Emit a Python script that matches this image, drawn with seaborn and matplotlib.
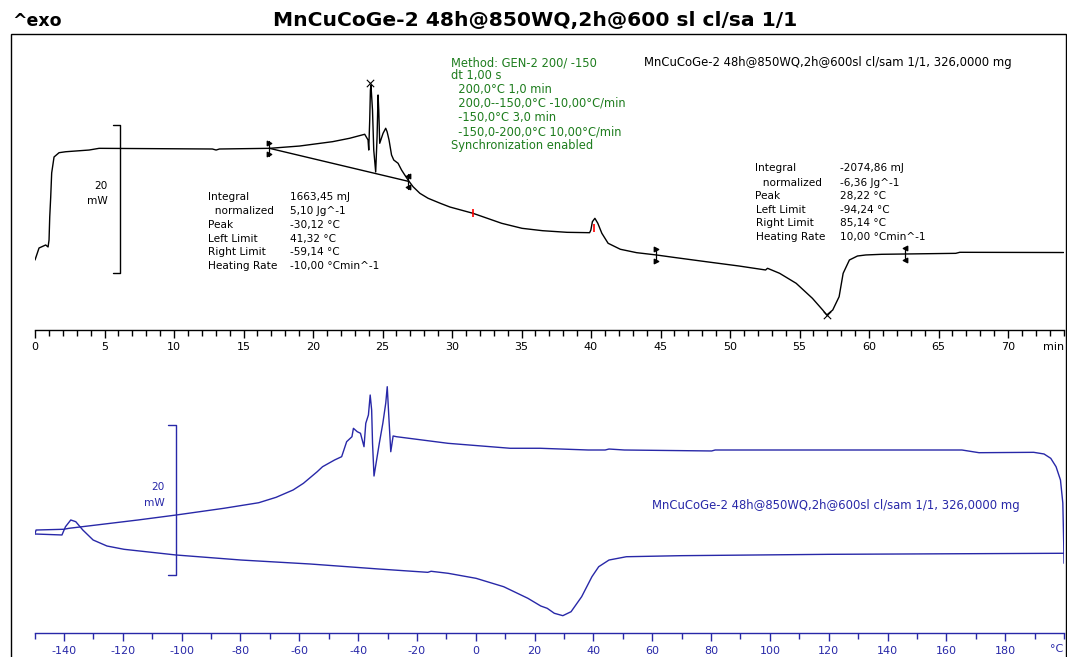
import numpy as np
import pandas as pd
import seaborn as sns
import matplotlib
matplotlib.use("Agg")
import matplotlib.pyplot as plt
from matplotlib.ticker import MultipleLocator
from matplotlib.patches import Rectangle

# ---------------- data ----------------
# upper panel: heat flow (mW) vs time (min)
top_time = [0.00, 0.29, 0.77, 0.94, 1.01, 1.06, 1.13, 1.20, 1.37, 1.73, 2.21, 3.89, 4.61, 12.76, 13.03, 13.27,
            16.87, 19.03, 21.41, 22.64, 23.72, 23.96, 24.01, 24.08, 24.13, 24.17, 24.28, 24.37, 24.51, 24.61,
            24.68, 24.73, 24.80, 24.92, 25.04, 25.23, 25.33, 25.47, 25.65, 25.81, 26.12, 26.37, 26.60, 26.84,
            27.20, 27.69, 28.28, 29.16, 29.85, 30.63, 31.51, 33.57, 35.04, 36.51, 38.28, 39.90, 39.99, 40.10,
            40.28, 40.49, 40.78, 41.23, 42.11, 43.28, 44.70, 45.93, 48.28, 50.64, 52.56, 52.70, 53.57, 54.76,
            55.93, 56.67, 56.96, 57.39, 57.85, 58.14, 58.59, 59.17, 59.77, 60.92, 62.56, 66.24, 66.53, 74.00]
top_hf = [9.46, 11.08, 11.49, 11.22, 12.16, 15.27, 17.97, 21.22, 23.38, 23.96, 24.09, 24.32, 24.55, 24.46, 24.32,
          24.46, 24.55, 24.86, 25.45, 25.91, 26.45, 25.68, 24.32, 28.38, 32.43, 33.11, 29.73, 24.32, 21.35, 26.12,
          31.76, 29.73, 25.23, 25.91, 26.58, 27.26, 26.80, 25.68, 23.65, 22.97, 22.53, 21.62, 20.95, 20.27,
          19.36, 18.47, 17.80, 17.12, 16.62, 16.22, 15.77, 14.42, 13.74, 13.42, 13.20, 13.15, 13.51, 14.64,
          15.09, 14.42, 13.07, 11.72, 10.91, 10.45, 10.14, 9.82, 9.23, 8.65, 8.11, 8.34, 7.66, 6.31,
          4.28, 2.70, 2.03, 2.70, 4.50, 7.66, 9.46, 10.00, 10.14, 10.23, 10.27, 10.36, 10.50, 10.47]

# integration baselines / limits (time, mW)
base1_time = [16.87, 26.84]
base1_hf = [24.55, 20.10]
base2_time = [44.70, 62.56]
base2_hf = [10.14, 10.27]
peak_marks_time = [24.08, 56.96]
peak_marks_hf = [33.40, 2.03]
red_marks_time = [31.51, 40.19]
red_marks_hf = [15.77, 13.78]

# lower panel: heat flow (mW) vs temperature (°C)
cool_T = [200.0, 199.9, 199.6, 198.8, 197.3, 195.5, 193.2, 189.7, 171.1, 165.3, 118.7, 81.4, 80.2, 50.5, 45.3,
          44.0, 38.2, 21.9, 11.7, -9.4, -26.9, -28.1, -28.9, -29.5, -30.1, -30.6, -31.6, -32.8, -34.6, -35.1,
          -35.4, -35.9, -36.5, -37.4, -38.0, -39.2, -40.3, -41.6, -42.1, -43.9, -45.6, -48.0, -52.1, -53.9,
          -58.6, -62.1, -67.9, -73.8, -85.6, -101.9, -114.8, -138.3, -140.1, -149.5, -149.9]
cool_hf = [9.3, 12.0, 17.33, 20.4, 22.17, 23.29, 23.87, 24.09, 24.04, 24.4, 24.4, 24.4, 24.27, 24.4, 24.53,
           24.4, 24.4, 24.63, 24.63, 25.29, 26.17, 26.27, 24.17, 28.4, 32.84, 30.67, 27.96, 25.29, 20.93, 25.29,
           29.73, 31.73, 29.07, 27.96, 24.84, 26.63, 26.84, 27.29, 26.17, 25.51, 23.51, 23.07, 22.17, 21.51,
           19.96, 19.07, 18.09, 17.37, 16.63, 15.73, 15.07, 13.96, 13.83, 13.73, 13.2]
heat_T = [-149.9, -140.7, -139.5, -137.7, -136.0, -133.6, -130.1, -125.4, -119.6, -101.9, -79.8, -56.3, -32.9,
          -16.3, -15.2, -9.4, 0.1, 9.5, 17.7, 22.1, 24.3, 26.7, 29.6, 32.4, 36.0, 39.5, 41.8, 45.3, 51.2,
          69.8, 119.9, 200.0]
heat_hf = [13.2, 13.07, 14.17, 15.07, 14.84, 13.73, 12.4, 11.6, 11.16, 10.4, 9.73, 9.2, 8.53, 8.09, 8.23, 7.96,
           7.29, 6.17, 4.63, 3.6, 3.29, 2.63, 2.31, 2.84, 4.84, 7.51, 8.84, 9.73, 10.17, 10.31, 10.49, 10.63]

# scale bars (20 mW)
top_bar_time = 6.12
top_bar_hf = [7.70, 27.70]
bot_bar_T = -101.9
bot_bar_hf = [7.70, 27.70]

# texts
title = "MnCuCoGe-2 48h@850WQ,2h@600 sl cl/sa 1/1"
sample_label = "MnCuCoGe-2 48h@850WQ,2h@600sl cl/sam 1/1, 326,0000 mg"
method_lines = ["Method: GEN-2 200/ -150", "dt 1,00 s", "  200,0°C 1,0 min", "  200,0--150,0°C -10,00°C/min",
                "  -150,0°C 3,0 min", "  -150,0-200,0°C 10,00°C/min", "Synchronization enabled"]
res1_labels = ["Integral", "  normalized", "Peak", "Left Limit", "Right Limit", "Heating Rate"]
res1_values = ["1663,45 mJ", "5,10 Jg^-1", "-30,12 °C", "41,32 °C", "-59,14 °C", "-10,00 °Cmin^-1"]
res2_labels = ["Integral", "  normalized", "Peak", "Left Limit", "Right Limit", "Heating Rate"]
res2_values = ["-2074,86 mJ", "-6,36 Jg^-1", "28,22 °C", "-94,24 °C", "85,14 °C", "10,00 °Cmin^-1"]

# ---------------- figure ----------------
sns.set_theme(style="white")
plt.rcParams["font.family"] = ["DejaVu Sans"]
plt.rcParams["text.color"] = "black"

W, H = 1067, 657
fig = plt.figure(figsize=(W / 100, H / 100), dpi=100)
fig.patch.set_facecolor("white")

BLUE = "#2828a8"
GREEN = "#1e7d1e"
FS = 7.6
FS_LBL = 8.4
FS_METH = 8.3


def px(x, y):
    return x / W, 1 - y / H


# outer frame
fig.patches.append(Rectangle(px(11, 700), (1066 - 11) / W, (700 - 34) / H, transform=fig.transFigure,
                             fill=False, edgecolor="black", linewidth=1.0, clip_on=False))

# upper axes
ax1 = fig.add_axes([35 / W, (H - 330) / H, (1063.6 - 35) / W, (330 - 35) / H])
ax1.set_xlim(0, 74)
ax1.set_ylim(0, 295 / 7.4)
ax1.patch.set_alpha(0)

sns.lineplot(x=top_time, y=top_hf, sort=False, estimator=None, color="black", linewidth=1.0, ax=ax1)
sns.lineplot(x=base1_time, y=base1_hf, sort=False, estimator=None, color="black", linewidth=1.0, ax=ax1)
ax1.scatter(peak_marks_time, peak_marks_hf, marker="x", s=28, color="black", linewidths=0.8, zorder=5)
ax1.scatter(red_marks_time, red_marks_hf, marker="|", s=40, color="red", linewidths=1.2, zorder=5)
# limit markers
d = 0.75
ax1.scatter([base1_time[0]] * 2, [base1_hf[0] + d, base1_hf[0] - d], marker=">", s=10, color="black", zorder=5)
ax1.scatter([base1_time[1]] * 2, [base1_hf[1] + d, base1_hf[1] - d], marker="<", s=10, color="black", zorder=5)
ax1.scatter([base2_time[0]] * 2, [base2_hf[0] + d, base2_hf[0] - d], marker=">", s=10, color="black", zorder=5)
ax1.scatter([base2_time[1]] * 2, [base2_hf[1] + d, base2_hf[1] - d], marker="<", s=10, color="black", zorder=5)
for t, h in [(base1_time[0], base1_hf[0]), (base1_time[1], base1_hf[1]),
             (base2_time[0], base2_hf[0]), (base2_time[1], base2_hf[1])]:
    ax1.plot([t, t], [h - 1.0, h + 1.0], color="black", lw=0.9)
# scale bar
ax1.plot([top_bar_time - 0.5, top_bar_time, top_bar_time, top_bar_time - 0.5],
         [top_bar_hf[0], top_bar_hf[0], top_bar_hf[1], top_bar_hf[1]], color="black", lw=1.0)

# lower axes
ax2 = fig.add_axes([34.6 / W, (H - 633) / H, (1064 - 34.6) / W, (633 - 360) / H])
ax2.set_xlim(-150, 200)
ax2.set_ylim(0, 273 / 7.5)
ax2.patch.set_alpha(0)
sns.lineplot(x=cool_T, y=cool_hf, sort=False, estimator=None, color=BLUE, linewidth=1.0, ax=ax2)
sns.lineplot(x=heat_T, y=heat_hf, sort=False, estimator=None, color=BLUE, linewidth=1.0, ax=ax2)
ax2.plot([bot_bar_T - 2.8, bot_bar_T, bot_bar_T, bot_bar_T - 2.8],
         [bot_bar_hf[0], bot_bar_hf[0], bot_bar_hf[1], bot_bar_hf[1]], color=BLUE, lw=1.0)

for ax, col, maj, mnr in [(ax1, "black", 5, 1), (ax2, BLUE, 20, 10)]:
    for s in ["top", "left", "right"]:
        ax.spines[s].set_visible(False)
    ax.spines["bottom"].set_color(col)
    ax.spines["bottom"].set_linewidth(1.0)
    ax.set_yticks([])
    ax.xaxis.set_major_locator(MultipleLocator(maj))
    ax.xaxis.set_minor_locator(MultipleLocator(mnr))
    ax.tick_params(axis="x", which="major", direction="out", length=6, width=1, color=col,
                   labelcolor=col, labelsize=8, pad=3, bottom=True)
    ax.tick_params(axis="x", which="minor", direction="out", length=4, width=1, color=col, bottom=True)
    ax.set_xlabel("")
    ax.set_ylabel("")
    ax.grid(False)

ax1.set_xticks(np.arange(0, 71, 5))
ax1.set_xticklabels([str(v) for v in range(0, 71, 5)])
ax2.set_xticks(np.arange(-140, 181, 20))
ax2.set_xticklabels([str(v) for v in range(-140, 181, 20)])

# ---------------- texts ----------------
fig.text(*px(12, 21), "^exo", fontsize=12.5, fontweight="bold", family="DejaVu Sans", va="center", ha="left",
         color="black")
fig.text(*px(273, 20.5), title, fontsize=14.6, fontweight="bold", family="DejaVu Sans", va="center", ha="left",
         color="black")

fig.text(*px(1043, 347), "min", fontsize=8, va="center", ha="left", color="black")
fig.text(*px(1050, 649), "°C", fontsize=8, va="center", ha="left", color=BLUE)

fig.text(*px(108, 186), "20", fontsize=FS, va="center", ha="right")
fig.text(*px(108, 200.7), "mW", fontsize=FS, va="center", ha="right")
fig.text(*px(165, 486.7), "20", fontsize=FS, va="center", ha="right", color=BLUE)
fig.text(*px(165, 502.7), "mW", fontsize=FS, va="center", ha="right", color=BLUE)

ys = [62.7, 76, 90, 103.3, 117.7, 131.7, 145]
for yy, line in zip(ys, method_lines):
    fig.text(*px(450.6, yy), line, fontsize=FS_METH, va="center", ha="left", color=GREEN)

fig.text(*px(644.5, 62.7), sample_label, fontsize=FS_LBL, va="center", ha="left", color="black")
fig.text(*px(651.6, 505), sample_label, fontsize=FS_LBL, va="center", ha="left", color=BLUE)

ys1 = [196.7, 210.7, 225, 239, 252.3, 266]
for yy, lab, val in zip(ys1, res1_labels, res1_values):
    fig.text(*px(208.3, yy), lab, fontsize=FS, va="center", ha="left")
    fig.text(*px(290, yy), val, fontsize=FS, va="center", ha="left")
ys2 = [168.3, 182.7, 196, 210, 223.3, 236.7]
for yy, lab, val in zip(ys2, res2_labels, res2_values):
    fig.text(*px(755.5, yy), lab, fontsize=FS, va="center", ha="left")
    fig.text(*px(839.6, yy), val, fontsize=FS, va="center", ha="left")

fig.savefig("out.png", dpi=100, facecolor="white")
